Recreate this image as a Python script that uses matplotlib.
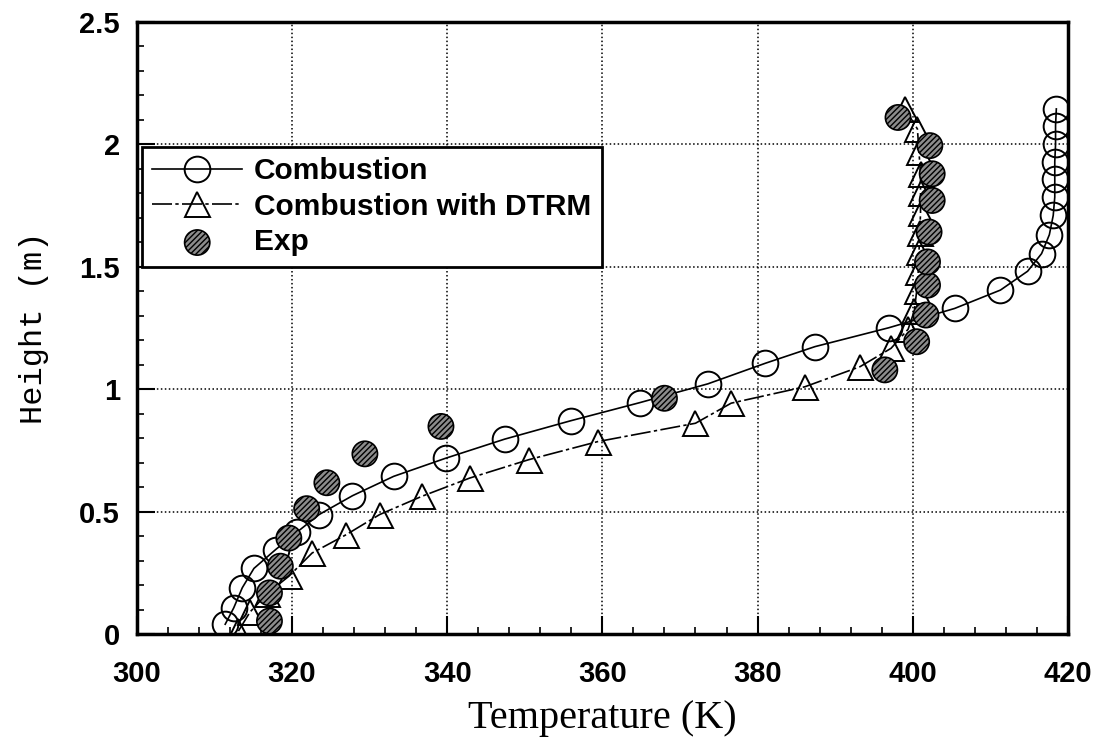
import matplotlib
matplotlib.use("Agg")
import matplotlib.pyplot as plt
from matplotlib.ticker import MultipleLocator

# ---- data ----
comb_T = [311.4, 312.5, 313.6, 315.1, 317.9, 320.6, 323.5, 327.8, 333.1, 339.8,
          347.4, 355.9, 364.8, 373.6, 381.0, 387.4, 396.9, 405.4, 411.3, 414.8,
          416.6, 417.6, 418.1, 418.3, 418.3, 418.3, 418.4, 418.4, 418.5]
comb_H = [0.04, 0.107, 0.189, 0.268, 0.345, 0.415, 0.488, 0.565, 0.644, 0.718,
          0.796, 0.871, 0.945, 1.022, 1.106, 1.174, 1.251, 1.33, 1.405, 1.482,
          1.554, 1.631, 1.71, 1.785, 1.86, 1.93, 2.0, 2.077, 2.145]

dtrm_T = [313.1, 314.6, 316.8, 319.6, 322.6, 327.0, 331.3, 336.7, 342.9, 350.5,
          359.4, 372.0, 376.6, 386.1, 393.2, 397.2, 399.4, 400.2, 400.5, 400.7,
          400.8, 400.9, 401.0, 401.0, 401.0, 400.8, 400.6, 399.0]
dtrm_H = [0.012, 0.09, 0.165, 0.236, 0.331, 0.406, 0.488, 0.562, 0.637, 0.712,
          0.786, 0.861, 0.943, 1.01, 1.092, 1.167, 1.245, 1.32, 1.40, 1.48,
          1.56, 1.64, 1.72, 1.80, 1.88, 1.97, 2.063, 2.145]

exp_T = [317.1, 317.1, 318.5, 319.6, 321.9, 324.5, 329.4, 339.2, 368.0, 396.4,
         400.5, 401.7, 401.9, 401.9, 402.1, 402.5, 402.5, 402.2, 398.1]
exp_H = [0.053, 0.168, 0.277, 0.392, 0.512, 0.618, 0.736, 0.848, 0.963, 1.079,
         1.194, 1.303, 1.425, 1.52, 1.642, 1.771, 1.88, 1.995, 2.11]

x_ticks = [300, 320, 340, 360, 380, 400, 420]
y_ticks = [0, 0.5, 1, 1.5, 2, 2.5]
y_tick_labels = ["0", "0.5", "1", "1.5", "2", "2.5"]

labels = ["Combustion", "Combustion with DTRM", "Exp"]

# ---- figure ----
fig = plt.figure(figsize=(11.01, 7.46), dpi=100)
ax = fig.add_axes([0.1242, 0.1501, 0.9700 - 0.1242, 0.9705 - 0.1501])

ax.plot(comb_T, comb_H, color="black", lw=1.2, marker="o", ms=18.5,
        mfc="none", mec="black", mew=1.4, label=labels[0], zorder=3)
ax.plot(dtrm_T, dtrm_H, color="black", lw=1.2, ls=(0, (12, 2, 2, 2)),
        marker="^", ms=18, mfc="none", mec="black", mew=1.4,
        label=labels[1], zorder=3)
ax.scatter(exp_T, exp_H, s=330, facecolor="#8c8c8c", edgecolor="black",
           hatch="//////", linewidths=1.2, label=labels[2], zorder=4)

ax.set_xlim(300, 420)
ax.set_ylim(0, 2.5)
ax.set_xticks(x_ticks)
ax.set_yticks(y_ticks)
ax.set_yticklabels(y_tick_labels)
ax.xaxis.set_minor_locator(MultipleLocator(4))
ax.yaxis.set_minor_locator(MultipleLocator(0.1))

ax.tick_params(which="both", direction="in", top=False, right=False, color="black")
ax.tick_params(which="major", length=13, width=1.5)
ax.tick_params(which="minor", length=5, width=1.2)
ax.tick_params(axis="x", pad=19)
ax.tick_params(axis="y", pad=12)

for lab in ax.get_xticklabels() + ax.get_yticklabels():
    lab.set_fontfamily("Liberation Sans")
    lab.set_fontweight("bold")
    lab.set_fontsize(21)

for sp in ax.spines.values():
    sp.set_linewidth(2.5)
    sp.set_color("black")

ax.grid(True, which="major", color="black", lw=1.1, ls=(0, (1, 1.6)))
ax.set_axisbelow(True)

ax.set_xlabel("Temperature (K)", fontfamily="Liberation Serif", fontsize=29,
              labelpad=8)
ax.set_ylabel("Height (m)", fontfamily="Liberation Mono", fontsize=23,
              labelpad=22)

leg = ax.legend(loc="upper left", bbox_to_anchor=(0.0056, 0.7958),
                borderaxespad=0, frameon=True, fancybox=False,
                prop={"family": "Liberation Sans", "weight": "bold", "size": 21.5},
                handlelength=3.0, handletextpad=0.4, labelspacing=0.25,
                borderpad=0.35)
leg.get_frame().set_edgecolor("black")
leg.get_frame().set_linewidth(2)
leg.get_frame().set_alpha(1)

fig.savefig("out.png", dpi=100)
